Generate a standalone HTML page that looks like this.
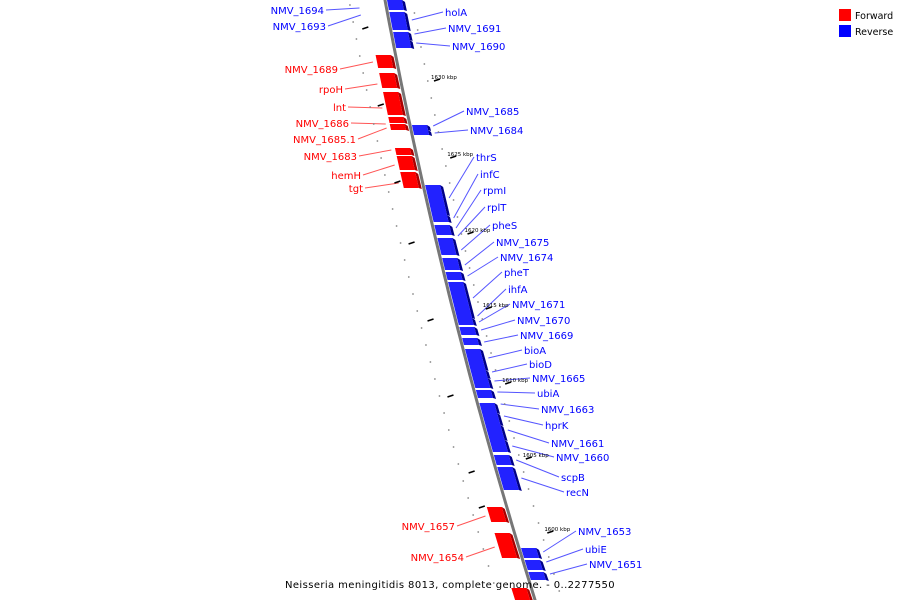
<!DOCTYPE html>
<html><head><meta charset="utf-8"><style>
body{margin:0;background:#fff}
svg{display:block;font-family:"DejaVu Sans","Liberation Sans",sans-serif}
</style></head><body>
<svg id="c" width="900" height="600">
<g id="legend">
<rect x="839" y="9" width="12" height="12" fill="#f00"/>
<text x="855" y="19" font-size="9.5">Forward</text>
<rect x="839" y="25" width="12" height="12" fill="#00f"/>
<text x="855" y="35" font-size="9.5">Reverse</text>
</g>
<text x="450" y="588" font-size="10" text-anchor="middle" letter-spacing="0.4">Neisseria meningitidis 8013, complete genome. - 0..2277550</text>
</svg>
<script>
const geneStarts=[0,12,32,40,125,130,185,215,225,238,258,272,282,318,327,338,349,370,378,390,403,413,425,440,455,467,548,560,572,55,73,92,117,124,148,156,172,507,533,588];
const geneEnds=[10,30,40,48,130,135,215,222,235,255,270,280,318,325,335,345,370,378,388,398,413,425,440,452,465,490,558,570,580,68,88,115,123,130,155,170,188,522,558,600];
const geneStrand=['r','r','r','r','r','r','r','r','r','r','r','r','r','r','r','r','r','r','r','r','r','r','r','r','r','r','r','r','r','f','f','f','f','f','f','f','f','f','f','f'];
const labelNames=['NMV_1694','NMV_1693','holA','NMV_1691','NMV_1690','NMV_1685','NMV_1684','thrS','infC','rpmI','rplT','pheS','NMV_1675','NMV_1674','pheT','ihfA','NMV_1671','NMV_1670','NMV_1669','bioA','bioD','NMV_1665','ubiA','NMV_1663','hprK','NMV_1661','NMV_1660','scpB','recN','NMV_1653','ubiE','NMV_1651','NMV_1689','rpoH','lnt','NMV_1686','NMV_1685.1','NMV_1683','hemH','tgt','NMV_1657','NMV_1654'];
const labelY=[10,26,12,28,46,111,130,157,174,190,207,225,242,257,272,289,304,320,335,350,364,378,393,409,425,443,457,477,492,531,549,564,69,89,107,123,139,156,175,188,526,557];
const labelTargetY=[8,15,20,34,43,126,133,198,218,228,236,250,265,276,298,316,322,330,342,358,372,381,392,404,416,430,446,460,478,552,562,574,62,84,108,124,128,150,165,183,516,547];
const tickKbp=[1630,1625,1620,1615,1610,1605,1600];
const tickY=[77,154,230,305,380,455,529];
const leftTickY=[28,105,182,243,320,396,472,507];
const lx=y=>385+0.1865*y+0.000106*y*y;
const labelX=[324,326,445,448,452,466,470,476,480,483,487,492,496,500,504,508,512,517,520,524,529,532,537,541,545,551,556,561,566,578,585,589,338,343,346,349,356,357,361,363,455,464];
const svg=document.getElementById('c');
const NS='http://www.w3.org/2000/svg';
function mk(t,a){const e=document.createElementNS(NS,t);for(const k in a)e.setAttribute(k,a[k]);svg.insertBefore(e,svg.firstChild.nextSibling);return e;}
// dots
for(let y=5;y<600;y+=17){
 const d=mk('circle',{cx:lx(y)-36,cy:y,r:0.9,fill:'#888'});
 
 
 const d2=mk('circle',{cx:lx(y+8)+27,cy:y+8,r:0.9,fill:'#888'});
 
 
}
// axis line
const ax=mk('path',{d:'M'+Array.from({length:62},(_,k)=>{const y=k*10-5;return lx(y).toFixed(1)+','+y}).join(' L'),stroke:'#777','stroke-width':3,fill:'none'});


// ticks
tickKbp.forEach((k,i)=>{
 const y=tickY[i];
 const t=mk('line',{x1:lx(y)+34,y1:y+4,x2:lx(y)+40,y2:y+2,stroke:'#000','stroke-width':1.5});
 
 
 const tx=mk('text',{x:lx(y)+31,y:y+2,'font-size':5.5,fill:'#000'});
 tx.textContent=k+' kbp';
 
 
});
leftTickY.forEach(y=>{
 const t2=mk('line',{x1:lx(y)-28,y1:y+1,x2:lx(y)-22,y2:y-1,stroke:'#000','stroke-width':1.5});
 
 
});
// leader lines + labels
labelNames.forEach((n,i)=>{
 const y=labelY[i];
 const left=i<2||i>=32;
 const red=i>=32;
 const col=red?'#f00':'#00f';
 const lc=red?'#f55':'#55f';
 const t=mk('text',{x:labelX[i],y:y+4,'font-size':10,fill:col,'text-anchor':left?'end':'start'});
 t.textContent=n;
 
 
 const ty=labelTargetY[i];
 let sx,ex;
 if(left){sx=labelX[i]+2;ex=i<2?lx(ty)-27:lx(ty)-24;}
 else{sx=labelX[i]-2;ex=lx(ty)+23;}
 const l=mk('line',{x1:sx,y1:y,x2:ex,y2:ty,stroke:lc,'stroke-width':1});
 
 
});
// genes
geneStarts.forEach((s,i)=>{
 const e=geneEnds[i];
 const rev=geneStrand[i]==='r';
 const o1=rev?2:-20,o2=rev?17:-5;
 const main=rev?'#22f':'#f00',side=rev?'#008':'#a00',top=rev?'#77f':'#f77';
 const pts=[[lx(s)+o1,s],[lx(s)+o2,s],[lx(e)+o2,e],[lx(e)+o1,e]].map(p=>p.join(',')).join(' ');
 const g=mk('polygon',{points:pts,fill:main});
 
 
 const sp=[[lx(s)+o2,s],[lx(s)+o2+3,s+2],[lx(e)+o2+3,e+1],[lx(e)+o2,e]].map(p=>p.join(',')).join(' ');
 const sd=mk('polygon',{points:sp,fill:side});
 
 
 const tp=[[lx(s)+o1,s],[lx(s)+o2,s],[lx(s)+o2+3,s+2],[lx(s)+o1+3,s+2]].map(p=>p.join(',')).join(' ');
 const tt=mk('polygon',{points:tp,fill:top});
 
 
});
</script>
</body></html>
